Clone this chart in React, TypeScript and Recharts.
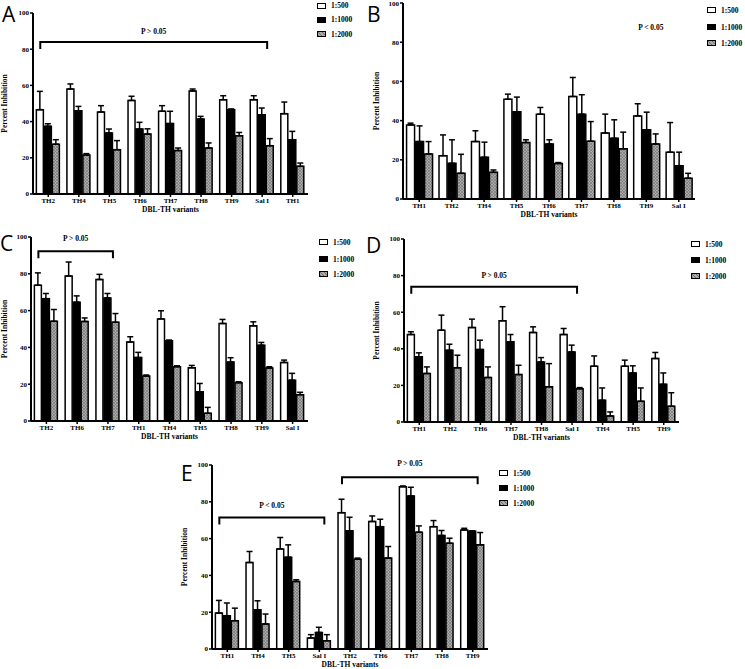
import React from 'react';
import { BarChart, Bar, XAxis, YAxis, ErrorBar, ReferenceLine } from 'recharts';

const SERIF = '"Liberation Serif", "DejaVu Serif", serif';
const SANS = '"Open Sans", "Noto Sans", sans-serif';

// A
const catsA = ['TH2', 'TH4', 'TH5', 'TH6', 'TH7', 'TH8', 'TH9', 'Sal I', 'TH1'];
const a500 = [46.6, 58, 45.3, 51.7, 45.7, 56.9, 52.1, 52.1, 44.4];
const a500Err = [10.1, 2.8, 3.5, 2.3, 3.1, 1.1, 2.2, 2.2, 6.4];
const a1000 = [37.4, 46, 33.7, 35.9, 38.9, 41.4, 46.6, 43.8, 30];
const a1000Err = [1.4, 2.4, 2.2, 3.7, 6.8, 1.5, 0.4, 3.7, 4.6];
const a2000 = [27.5, 21.5, 24.5, 33.1, 24, 25.4, 32.2, 26.7, 15.3];
const a2000Err = [2.5, 0.8, 5, 2.9, 1.4, 2.8, 1.8, 3.9, 1.8];

// B
const catsB = ['TH1', 'TH2', 'TH4', 'TH5', 'TH6', 'TH7', 'TH8', 'TH9', 'Sal I'];
const b500 = [37.8, 22.1, 29.3, 50.9, 43.3, 52.3, 33.7, 42.4, 23.9];
const b500Err = [0.9, 10.6, 5.5, 2.6, 3.4, 9.7, 9.6, 6.2, 15.1];
const b1000 = [29.3, 18.2, 21.3, 44.5, 28.1, 43.3, 31, 35.3, 17];
const b1000Err = [8, 12, 7.7, 7.5, 2.1, 9.9, 9.4, 9, 6.9];
const b2000 = [23, 13.1, 13.6, 28.8, 18.1, 29.5, 25.6, 28.1, 10.6];
const b2000Err = [6.3, 9.7, 1.2, 1.4, 0.5, 10, 8.5, 5.1, 2.5];

// C
const catsC = ['TH2', 'TH6', 'TH7', 'TH1', 'TH4', 'TH5', 'TH8', 'TH9', 'Sal I'];
const c500 = [73.8, 78.8, 76.9, 42.9, 55.5, 28.9, 53, 51.7, 31.8];
const c500Err = [6.7, 7.6, 2.8, 2.9, 4.4, 1.3, 2.2, 2.2, 1.3];
const c1000 = [66.5, 64.6, 66.9, 34.5, 43.6, 15.9, 32, 41.2, 22.2];
const c1000Err = [2.8, 3.4, 2.4, 2.8, 0.4, 4.5, 2.4, 1.5, 3.7];
const c2000 = [54.2, 54.1, 53.7, 24.4, 29.5, 4.2, 20.8, 28.8, 14.3];
const c2000Err = [6.4, 1.9, 4.7, 0.6, 0.5, 3.2, 0.5, 0.7, 1.3];

// D
const catsD = ['TH1', 'TH2', 'TH6', 'TH7', 'TH8', 'Sal I', 'TH4', 'TH5', 'TH9'];
const d500 = [47.8, 50.2, 51.6, 55.3, 48.9, 47.8, 30.5, 30.5, 34.7];
const d500Err = [1.5, 8.2, 4.6, 7.7, 3.1, 3.3, 5.6, 3.3, 3.3];
const d1000 = [35.6, 39.2, 39.6, 43.8, 32.8, 38.3, 11.9, 26.8, 20.6];
const d1000Err = [2.2, 3.3, 5.1, 4, 2.4, 3.7, 6.7, 3.9, 6.2];
const d2000 = [26.5, 29.6, 24.3, 25.9, 19.2, 18.2, 3.3, 11.3, 8.6];
const d2000Err = [3.6, 6.9, 5.8, 5.1, 12.7, 0.6, 2.2, 7.3, 7.4];

// E
const catsE = ['TH1', 'TH4', 'TH5', 'Sal I', 'TH2', 'TH6', 'TH7', 'TH8', 'TH9'];
const e500 = [19.5, 47, 54.4, 6, 74.1, 69.3, 88.2, 66.5, 64.7];
const e500Err = [6.9, 6, 6.2, 1.8, 7.3, 3, 0.4, 3.3, 0.9];
const e1000 = [18.1, 21.3, 49.9, 9, 64.2, 66.5, 83.2, 61.7, 64];
const e1000Err = [6.9, 4.9, 6.7, 2.8, 7.4, 4, 4.7, 2.7, 0.2];
const e2000 = [15.4, 13.6, 36.7, 4.5, 48.8, 49.4, 63.5, 57.5, 56.6];
const e2000Err = [6.8, 5.4, 0.9, 3.3, 0.6, 6.3, 3.4, 2.7, 6.7];

const dilutions = ['1:500', '1:1000', '1:2000'];
const yTicks = [0, 20, 40, 60, 80, 100];

function rows(cats: string[], m1: number[], s1: number[], m2: number[], s2: number[], m3: number[], s3: number[]) {
  return cats.map((name, i) => ({
    name,
    d500: m1[i],
    e500: [0, s1[i]],
    d1000: m2[i],
    e1000: [0, s2[i]],
    d2000: m3[i],
    e2000: [0, s3[i]],
  }));
}

type Bracket = { from: string; to: string; y: number; text: string; lift: number; line: boolean; dx?: number };

const bracketShape = (b: Bracket) => (p: any) => {
  const x1 = p.x1 - 8;
  const x2 = p.x2 + 5;
  const y = p.y1;
  const mid = (x1 + x2) / 2 + (b.dx || 0);
  return (
    <g>
      {b.line && (
        <path d={`M${x1},${y + 7}V${y}H${x2}V${y + 7}`} stroke="#000" strokeWidth={2} fill="none" />
      )}
      <text
        x={mid}
        y={y - b.lift}
        textAnchor="middle"
        fontFamily={SERIF}
        fontWeight="bold"
        fontSize={7.5}
        fill="#000"
      >
        {b.text}
      </text>
    </g>
  );
};

interface PanelProps {
  id: string;
  left: number;
  top: number;
  width: number;
  marginTop: number;
  plotHeight: number;
  axisWidth: number;
  xHeight: number;
  labelOffset: number;
  data: ReturnType<typeof rows>;
  brackets: Bracket[];
}

function Panel({ id, left, top, width, marginTop, plotHeight, axisWidth, xHeight, labelOffset, data, brackets }: PanelProps) {
  const textProps = { fontFamily: SERIF, fontWeight: 'bold', fill: '#000' };
  return (
    <div style={{ position: 'absolute', left, top }}>
      <BarChart
        width={width}
        height={marginTop + plotHeight + xHeight}
        data={data}
        margin={{ top: marginTop, right: 12, bottom: 0, left: 0 }}
        barCategoryGap="11%"
        barGap={1}
      >
        <defs>
          <pattern id={`hatch${id}`} width="3" height="3" patternUnits="userSpaceOnUse">
            <rect width="3" height="3" fill="#aaaaaa" />
            <path d="M0,3L3,0M-1,1L1,-1M2,4L4,2M0,0L3,3" stroke="#6e6e6e" strokeWidth={0.6} />
          </pattern>
        </defs>
        <XAxis
          dataKey="name"
          interval={0}
          height={xHeight}
          tickSize={3}
          tickMargin={1}
          tick={{ fontSize: 7, ...textProps }}
          axisLine={{ stroke: '#000', strokeWidth: 2 }}
          tickLine={{ stroke: '#000', strokeWidth: 1.5 }}
          label={{ value: 'DBL-TH variants', position: 'insideBottom', offset: labelOffset, fontSize: 7.5, ...textProps }}
        />
        <YAxis
          domain={[0, 100]}
          ticks={yTicks}
          width={axisWidth}
          tickSize={3}
          tickMargin={1}
          tick={{ fontSize: 7, ...textProps }}
          axisLine={{ stroke: '#000', strokeWidth: 2 }}
          tickLine={{ stroke: '#000', strokeWidth: 1.5 }}
          label={{
            value: 'Percent Inhibition',
            angle: -90,
            position: 'insideLeft',
            offset: 4,
            fontSize: 7.5,
            style: { textAnchor: 'middle' },
            ...textProps,
          }}
        />
        <Bar dataKey="d500" fill="#fff" stroke="#000" strokeWidth={1.5} isAnimationActive={false}>
          <ErrorBar dataKey="e500" width={3} stroke="#000" strokeWidth={1.5} />
        </Bar>
        <Bar dataKey="d1000" fill="#000" stroke="#000" strokeWidth={1.5} isAnimationActive={false}>
          <ErrorBar dataKey="e1000" width={3} stroke="#000" strokeWidth={1.5} />
        </Bar>
        <Bar dataKey="d2000" fill={`url(#hatch${id})`} stroke="#000" strokeWidth={1.5} isAnimationActive={false}>
          <ErrorBar dataKey="e2000" width={3} stroke="#000" strokeWidth={1.5} />
        </Bar>
        {brackets.map((b, i) => (
          <ReferenceLine
            key={i}
            segment={[
              { x: b.from, y: b.y },
              { x: b.to, y: b.y },
            ]}
            position="middle"
            ifOverflow="visible"
            shape={bracketShape(b)}
          />
        ))}
      </BarChart>
    </div>
  );
}

const swatches = [
  { background: '#fff' },
  { background: '#000' },
  { background: 'repeating-linear-gradient(45deg, #6e6e6e 0 1px, #aaaaaa 1px 2.5px)' },
];

function LegendBox({ left, centers }: { left: number; centers: number[] }) {
  return (
    <>
      {dilutions.map((d, i) => (
        <div
          key={d}
          style={{
            position: 'absolute',
            left,
            top: centers[i] - 5,
            height: 10,
            display: 'flex',
            alignItems: 'center',
            fontFamily: SERIF,
            fontWeight: 'bold',
            fontSize: 7.5,
            whiteSpace: 'nowrap',
          }}
        >
          <div
            style={{
              width: 9,
              height: 6,
              boxSizing: 'border-box',
              border: '1.5px solid #000',
              ...swatches[i],
            }}
          />
          <span style={{ marginLeft: 5 }}>{d}</span>
        </div>
      ))}
    </>
  );
}

const letters = [
  { t: 'A', x: 2, y: 22 },
  { t: 'B', x: 367, y: 22 },
  { t: 'C', x: 0, y: 251 },
  { t: 'D', x: 366, y: 253 },
  { t: 'E', x: 181, y: 481 },
];

export default function App() {
  return (
    <div style={{ position: 'absolute', left: 0, top: 0, width: 745, height: 669, background: '#fff', overflow: 'hidden' }}>
      <Panel
        id="A"
        left={0}
        top={0}
        width={320}
        marginTop={13}
        plotHeight={181}
        axisWidth={33}
        xHeight={22}
        labelOffset={4}
        data={rows(catsA, a500, a500Err, a1000, a1000Err, a2000, a2000Err)}
        brackets={[{ from: 'TH2', to: 'Sal I', y: 84, text: 'P > 0.05', lift: 8, line: true }]}
      />
      <Panel
        id="B"
        left={372}
        top={0}
        width={335}
        marginTop={3}
        plotHeight={196}
        axisWidth={31}
        xHeight={22}
        labelOffset={4}
        data={rows(catsB, b500, b500Err, b1000, b1000Err, b2000, b2000Err)}
        brackets={[{ from: 'TH9', to: 'TH9', y: 86, text: 'P < 0.05', lift: 0, line: false, dx: 6 }]}
      />
      <Panel
        id="C"
        left={0}
        top={220}
        width={320}
        marginTop={17}
        plotHeight={184}
        axisWidth={31}
        xHeight={22}
        labelOffset={4}
        data={rows(catsC, c500, c500Err, c1000, c1000Err, c2000, c2000Err)}
        brackets={[{ from: 'TH2', to: 'TH7', y: 92.2, text: 'P > 0.05', lift: 10, line: true }]}
      />
      <Panel
        id="D"
        left={372}
        top={220}
        width={319}
        marginTop={19}
        plotHeight={183}
        axisWidth={32}
        xHeight={22}
        labelOffset={4}
        data={rows(catsD, d500, d500Err, d1000, d1000Err, d2000, d2000Err)}
        brackets={[{ from: 'TH1', to: 'Sal I', y: 73.9, text: 'P > 0.05', lift: 9, line: true }]}
      />
      <Panel
        id="E"
        left={180}
        top={440}
        width={320}
        marginTop={25}
        plotHeight={184}
        axisWidth={32}
        xHeight={20}
        labelOffset={2}
        data={rows(catsE, e500, e500Err, e1000, e1000Err, e2000, e2000Err)}
        brackets={[
          { from: 'TH1', to: 'Sal I', y: 71.4, text: 'P < 0.05', lift: 10, line: true },
          { from: 'TH2', to: 'TH9', y: 93.3, text: 'P > 0.05', lift: 11, line: true },
        ]}
      />
      <LegendBox left={317} centers={[5.5, 19.5, 34]} />
      <LegendBox left={707} centers={[10, 27, 43]} />
      <LegendBox left={319} centers={[242, 259, 274]} />
      <LegendBox left={691} centers={[244, 260, 276]} />
      <LegendBox left={499} centers={[473, 488, 503]} />
      <svg width={745} height={669} style={{ position: 'absolute', left: 0, top: 0, pointerEvents: 'none' }}>
        {letters.map((l) => (
          <text key={l.t} x={l.x} y={l.y} fontFamily={SANS} fontSize={21} fill="#000">
            {l.t}
          </text>
        ))}
      </svg>
    </div>
  );
}
